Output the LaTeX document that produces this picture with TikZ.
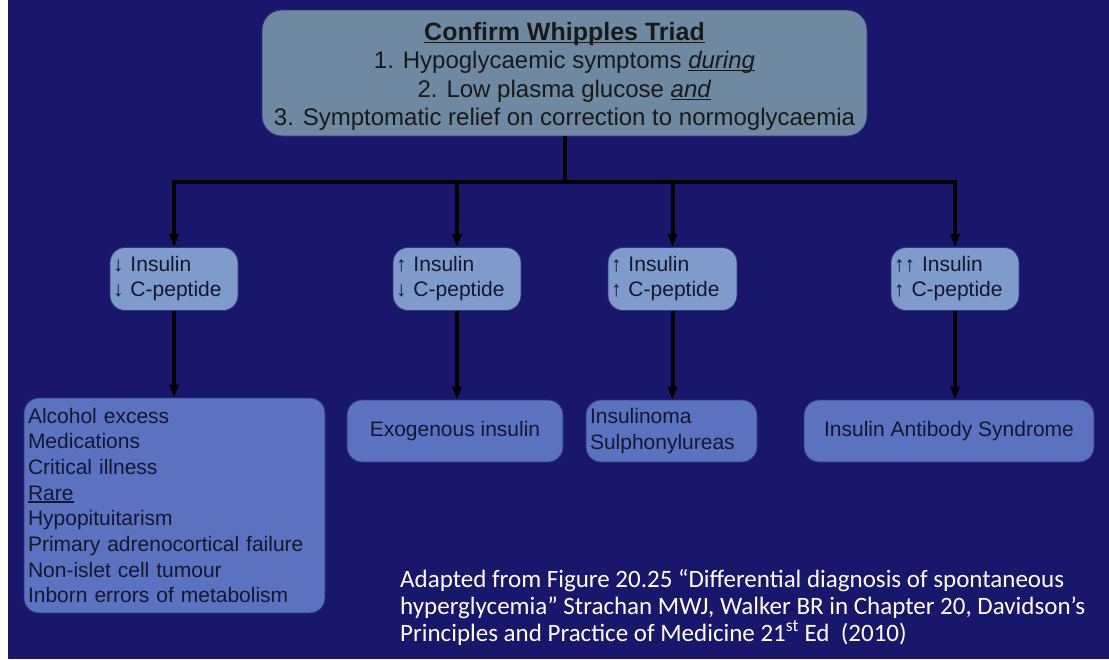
\documentclass[tikz,border=0pt]{standalone}
\usepackage{fontspec}
\setmainfont{Liberation Sans}
\newfontfamily\notefont{Carlito}
\usetikzlibrary{arrows.meta}

\definecolor{bgnavy}{HTML}{18176C}
\definecolor{triadfill}{HTML}{6F89A3}
\definecolor{testfill}{HTML}{7F9BCC}
\definecolor{causefill}{HTML}{5A72C0}
\definecolor{boxline}{HTML}{2C3878}
\definecolor{inkdark}{HTML}{131730}

% underline drawn just below the baseline, crossing descenders
\newcommand\ulbase[1]{\leavevmode\setbox0\hbox{#1}\rlap{\rule[-2.6pt]{\wd0}{1.3pt}}\box0}

\tikzset{
  triadbox/.style={rounded corners=20pt, fill=triadfill, draw=boxline, line width=0.8pt,
    align=center, text=black!90, inner sep=2pt,
    font=\fontsize{24}{28.5}\selectfont},
  testbox/.style={rounded corners=15pt, fill=testfill, draw=boxline, line width=0.8pt,
    minimum height=63pt, inner xsep=3pt, inner ysep=2pt, align=left, text=inkdark,
    font=\fontsize{21}{25}\selectfont},
  causebox/.style={rounded corners=15pt, fill=causefill, draw=boxline, line width=0.8pt,
    inner xsep=4pt, inner ysep=2pt, text=inkdark,
    font=\fontsize{21}{25.7}\selectfont},
  conn/.style={line width=4pt, draw=black},
  arr/.style={conn, -{Triangle[length=13pt,width=9pt]}},
}

\begin{document}
\begin{tikzpicture}[x=1pt,y=-1pt]
  % page background
  \fill[white] (0,0) rectangle (1109,659);
  \fill[bgnavy] (8,0) rectangle (1109,659);
  \useasboundingbox (0,0) rectangle (1109,659);

  % Whipple's triad
  \node[triadbox, minimum width=605pt, minimum height=126pt] (triad) at (564.5,73)
    {\rule{0pt}{25pt}\ulbase{\fontsize{25}{28.5}\selectfont\textbf{Confirm Whipples Triad}}\\
     1. Hypoglycaemic symptoms \ulbase{\textit{during}}\\
     2. Low plasma glucose \ulbase{\textit{and}}\\
     3. Symptomatic relief on correction to normoglycaemia};

  % insulin / C-peptide results
  \node[testbox, text width=122pt] (t1) at (174,279) {↓ Insulin\\↓ C-peptide};
  \node[testbox, text width=122pt] (t2) at (457,279) {↑ Insulin\\↓ C-peptide};
  \node[testbox, text width=123pt] (t3) at (672.5,279) {↑ Insulin\\↑ C-peptide};
  \node[testbox, text width=122pt] (t4) at (955,279) {↑↑ Insulin\\↑ C-peptide};

  % causes
  \node[causebox, minimum width=301pt, minimum height=215pt, text width=293pt, align=left]
    (c1) at (174.5,505.5)
    {Alcohol excess\\Medications\\Critical illness\\\ulbase{Rare}\\Hypopituitarism\\
     Primary adrenocortical failure\\Non-islet cell tumour\\Inborn errors of metabolism};
  \node[causebox, minimum width=216pt, minimum height=62pt, align=center]
    (c2) at (455,431) {Exogenous insulin};
  \node[causebox, minimum width=171pt, minimum height=62pt, text width=163pt, align=left]
    (c3) at (671.5,431) {Insulinoma\\Sulphonylureas};
  \node[causebox, minimum width=290pt, minimum height=62pt, align=center]
    (c4) at (949,431) {Insulin Antibody Syndrome};

  % connectors
  \coordinate (bus) at (564.5,182);
  \draw[conn] (triad.south) -- (triad.south |- bus);
  \draw[conn, line cap=rect] (t1.north |- bus) -- (t4.north |- bus);
  \foreach \t in {t1,t2,t3,t4}
    \draw[arr] (\t.north |- bus) -- (\t.north);
  \draw[arr] (t1.south) -- (t1.south |- c1.north);
  \draw[arr] (t2.south) -- (t2.south |- c2.north);
  \draw[arr] (t3.south) -- (t3.south |- c3.north);
  \draw[arr] (t4.south) -- (t4.south |- c4.north);

  % source note
  \node[anchor=west, align=left, text=white, inner sep=0pt,
        font=\notefont\fontsize{25}{27}\selectfont] (note) at (400,607)
    {Adapted from Figure 20.25 “Differential diagnosis of spontaneous\\
     hyperglycemia” Strachan MWJ, Walker BR in Chapter 20, Davidson’s\\
     Principles and Practice of Medicine 21\textsuperscript{st} Ed~ (2010)};
\end{tikzpicture}
\end{document}
